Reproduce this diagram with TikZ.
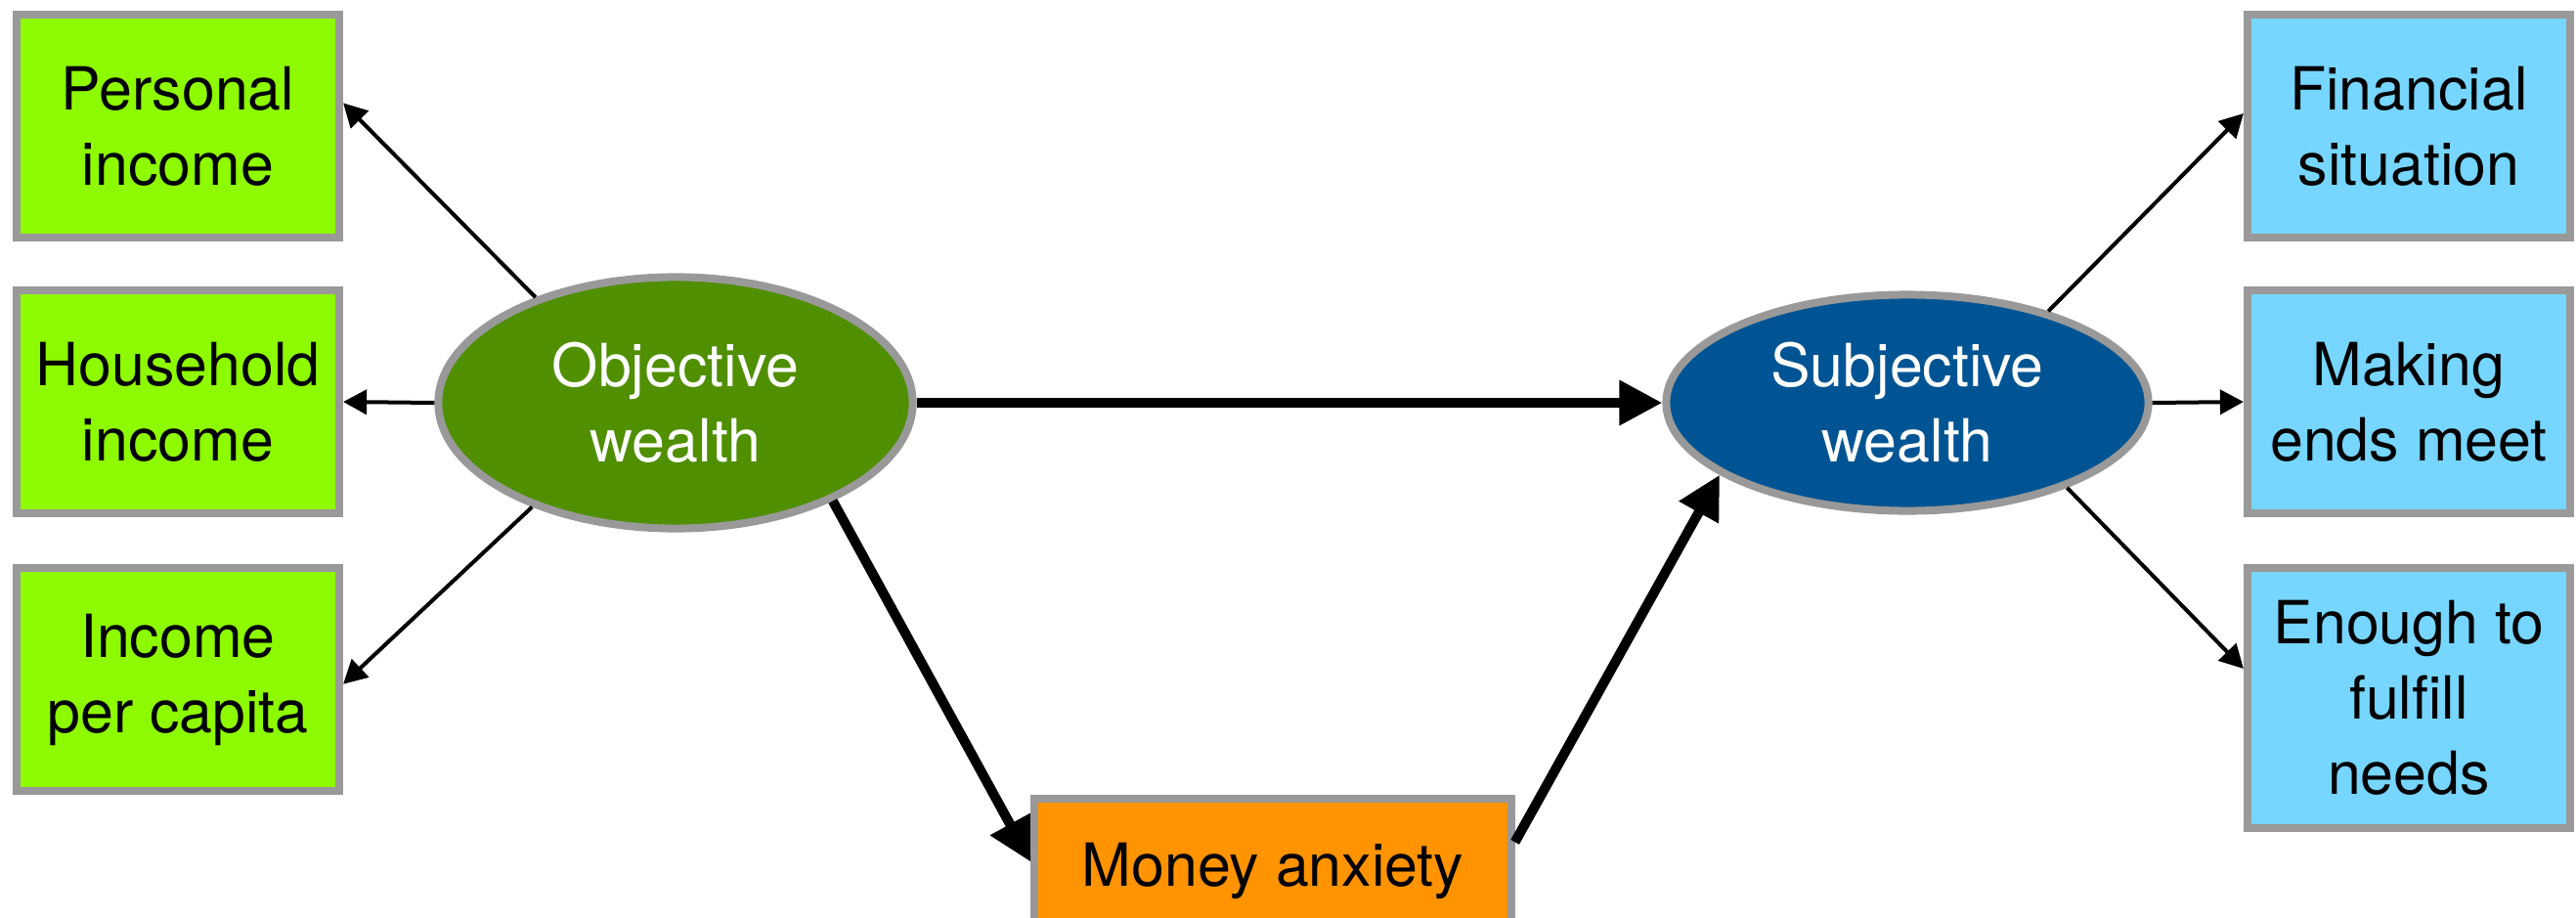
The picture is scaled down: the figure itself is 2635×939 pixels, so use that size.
\documentclass[tikz,border=0pt]{standalone}
\usepackage{fontspec}
\setmainfont{TeX Gyre Heros}
\usetikzlibrary{arrows.meta,calc,shapes.geometric}

\definecolor{fillLime}{HTML}{8EFA00}
\definecolor{fillClover}{HTML}{4F8F00}
\definecolor{fillOcean}{HTML}{005493}
\definecolor{fillSky}{HTML}{76D6FF}
\definecolor{fillTangerine}{HTML}{FF9300}
\definecolor{edgeGray}{HTML}{999999}

\begin{document}
\begin{tikzpicture}[x=0.01cm,y=-0.01cm,
  labelfont/.style={font=\fontsize{17.3}{21.9}\selectfont},
  box/.style={rectangle, draw=edgeGray, line width=0.08cm, inner sep=0pt,
    minimum width=3.3cm, minimum height=2.28cm, align=center, labelfont},
  latent/.style={ellipse, draw=edgeGray, line width=0.08cm, inner sep=0pt,
    align=center, text=white, labelfont},
  thinarrow/.style={line width=0.04cm, -{Triangle[length=0.24cm,width=0.25cm]}},
  thickarrow/.style={line width=0.1cm, -{Triangle[length=0.44cm,width=0.44cm]}}]

\useasboundingbox (0,0) rectangle (2635,939);

% measured indicators of objective wealth
\node[box, fill=fillLime] (pers) at (182,129) {Personal\\income};
\node[box, fill=fillLime] (hh)   at (182,411) {Household\\income};
\node[box, fill=fillLime] (inc)  at (182,695) {Income\\per capita};

% latent constructs
\node[latent, fill=fillClover, minimum width=4.85cm, minimum height=2.57cm]
  (obj) at (691,412) {Objective\\wealth};
\node[latent, fill=fillOcean, minimum width=4.93cm, minimum height=2.21cm]
  (subj) at (1951,412) {Subjective\\wealth};

% mediator
\node[box, fill=fillTangerine, minimum width=4.87cm, minimum height=1.48cm]
  (money) at (1302,891) {Money anxiety};

% measured indicators of subjective wealth
\node[box, fill=fillSky] (fin)  at (2464,129) {Financial\\situation};
\node[box, fill=fillSky] (ends) at (2464,411) {Making\\ends meet};
\node[box, fill=fillSky, minimum height=2.65cm] (need) at (2464,714) {Enough to\\fulfill\\needs};

% loadings
\draw[thinarrow] (obj.143) -- ($(pers.north east)!0.40!(pers.south east)$);
\draw[thinarrow] (obj.west) -- (hh.east);
\draw[thinarrow] (obj.216) -- ($(inc.north east)!0.52!(inc.south east)$);
\draw[thinarrow] (subj.33) -- ($(fin.north west)!0.445!(fin.south west)$);
\draw[thinarrow] (subj.east) -- (ends.west);
\draw[thinarrow] (subj.332) -- ($(need.north west)!0.39!(need.south west)$);

% structural paths
\draw[thickarrow] (obj.east) -- (subj.west);
\draw[thickarrow] (obj.328) -- ($(money.north west)!0.44!(money.south west)$);
\draw[thickarrow] ($(money.north east)!0.31!(money.south east)$) -- (subj.201);

\end{tikzpicture}
\end{document}
